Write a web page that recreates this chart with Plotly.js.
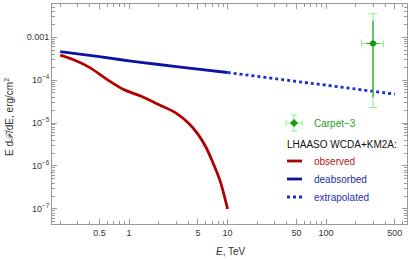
<!DOCTYPE html>
<html><head><meta charset="utf-8">
<script src="https://cdn.plot.ly/plotly-3.0.1.min.js"></script>
<style>html,body{margin:0;padding:0;background:#fff}#plot{width:415px;height:260px}</style>
</head><body><div id="plot"></div>
<script>
// Observed LHAASO spectrum (TeV, erg/cm^2)
const E_obs = [0.2, 0.27, 0.4, 0.59, 0.88, 1.29, 2.06, 3.0, 4.0, 5.0, 6.0, 7.0, 8.4, 10];
const F_obs = [3.8e-4, 3.0e-4, 1.95e-4, 1.05e-4, 6.0e-5, 4.3e-5, 2.6e-5, 1.7e-5, 1.0e-5, 5.5e-6, 2.8e-6, 1.3e-6, 4.5e-7, 1.0e-7];
// Deabsorbed
const E_deabs = [0.2, 0.5, 1, 2, 5, 10];
const F_deabs = [4.6e-4, 3.5e-4, 2.8e-4, 2.3e-4, 1.8e-4, 1.5e-4];
// Extrapolated
const E_extr = [10, 50, 100, 500];
const F_extr = [1.5e-4, 9.3e-5, 7.6e-5, 4.7e-5];
// Carpet-3 point
const E_carpet = [300];
const F_carpet = [7.1e-4];
const E_err_plus = [82], E_err_minus = [70];
const F_err_plus = [2.79e-3], F_err_minus = [6.87e-4];
const E_stat_plus = [40], E_stat_minus = [41];
const F_stat_plus = [1.7e-3], F_stat_minus = [6.7e-4];
// Ticks
const xTickVals = [0.5, 1, 5, 10, 50, 100, 500];
const xTickText = ['0.5', '1', '5', '10', '50', '100', '500'];
const xMinor = [0.2,0.3,0.4,0.6,0.7,0.8,0.9,2,3,4,6,7,8,9,20,30,40,60,70,80,90,200,300,400,600];
const yTickVals = [1e-7, 1e-6, 1e-5, 1e-4, 1e-3];
const yTickText = ['10<sup>−7</sup>', '10<sup>−6</sup>', '10<sup>−5</sup>', '10<sup>−4</sup>', '0.001'];
const yMinor = [];
[-8,-7,-6,-5,-4,-3].forEach(d => { for (let k = 2; k <= 9; k++) yMinor.push(k * Math.pow(10, d)); });

const W = 415, H = 260, L = 52, R = 8, T = 4, B = 36;
const pw = W - L - R, ph = H - T - B;
const px = x => (x - L) / pw, py = y => (H - B - y) / ph;

const cRed = '#b00000', cBlue = '#0a14a0', cDot = '#1a30d0';
const cLight = '#90ee90', cDark = '#22a022', cMark = '#119911';

const traces = [
  {x: E_obs, y: F_obs, mode: 'lines', line: {color: cRed, width: 2.8, shape: 'spline'}, hoverinfo: 'skip'},
  {x: E_deabs, y: F_deabs, mode: 'lines', line: {color: cBlue, width: 2.8, shape: 'spline'}},
  {x: E_extr, y: F_extr, mode: 'lines', line: {color: cDot, width: 2.8, dash: 'dot', shape: 'spline'}},
  {x: E_carpet, y: F_carpet, mode: 'markers', marker: {color: cMark, size: 0.1, opacity: 0},
   error_x: {type: 'data', symmetric: false, array: E_err_plus, arrayminus: E_err_minus, color: cLight, thickness: 1, width: 4},
   error_y: {type: 'data', symmetric: false, array: F_err_plus, arrayminus: F_err_minus, color: cLight, thickness: 1, width: 4}},
  {x: E_carpet, y: F_carpet, mode: 'markers', marker: {color: cMark, size: 6, symbol: 'circle'},
   error_x: {type: 'data', symmetric: false, array: E_stat_plus, arrayminus: E_stat_minus, color: cDark, thickness: 1.2, width: 0},
   error_y: {type: 'data', symmetric: false, array: F_stat_plus, arrayminus: F_stat_minus, color: cDark, thickness: 1.2, width: 0}}
];

const font = 'Liberation Sans, Arial, sans-serif';
const axisCommon = {
  type: 'log', showgrid: false, zeroline: false, showline: true, linecolor: '#9a9a9a', linewidth: 1,
  mirror: 'ticks', ticks: 'inside', ticklen: 5, tickcolor: '#9a9a9a', tickwidth: 1,
  tickfont: {family: font, size: 9, color: '#333'},
  minor: {ticks: 'inside', ticklen: 3, tickcolor: '#9a9a9a', tickwidth: 1, tickmode: 'array'}
};

const shapes = [];
const annotations = [];
function line(x0, y0, x1, y1, color, width, dash) {
  shapes.push({type: 'line', xref: 'paper', yref: 'paper', x0: px(x0), y0: py(y0), x1: px(x1), y1: py(y1),
    line: {color: color, width: width, dash: dash || 'solid'}});
}
function text(x, y, s, color, size) {
  annotations.push({xref: 'paper', yref: 'paper', x: px(x), y: py(y), xanchor: 'left', yanchor: 'middle',
    text: s, showarrow: false, font: {family: font, size: size || 10, color: color}});
}
// Carpet-3 legend symbol
line(286, 123, 302, 123, cLight, 1);
line(286, 120, 286, 126, cLight, 1);
line(302, 120, 302, 126, cLight, 1);
line(294, 115, 294, 131, cLight, 1);
line(291, 115, 297, 115, cLight, 1);
line(291, 131, 297, 131, cLight, 1);
line(290, 123, 298, 123, cDark, 1.2);
line(294, 119, 294, 127, cDark, 1.2);
shapes.push({type: 'circle', xref: 'paper', yref: 'paper', x0: px(291.5), x1: px(296.5), y0: py(125.5), y1: py(120.5),
  fillcolor: cMark, line: {color: cMark, width: 1}});
text(312, 123, 'Carpet−3', '#22a022');
text(285, 144, 'LHAASO WCDA+KM2A:', '#111');
line(287, 161, 302, 161, cRed, 2.8);
text(312, 161, 'observed', '#b02020');
line(287, 179, 302, 179, cBlue, 2.8);
text(312, 179, 'deabsorbed', '#2030a0');
line(287, 197, 302, 197, cDot, 2.8, 'dot');
text(312, 197, 'extrapolated', '#2030b0');
// axis titles
annotations.push({xref: 'paper', yref: 'paper', x: px(231), y: py(252), xanchor: 'center', yanchor: 'middle',
  text: '<i>E</i>, TeV', showarrow: false, font: {family: font, size: 10, color: '#333'}});
annotations.push({xref: 'paper', yref: 'paper', x: px(9), y: py(117), xanchor: 'center', yanchor: 'middle', textangle: -90,
  text: 'E d<i>ℱ</i>/dE, erg/cm<sup>2</sup>', showarrow: false, font: {family: font, size: 10, color: '#333'}});

const layout = {
  width: W, height: H, margin: {l: L, r: R, t: T, b: B}, showlegend: false,
  paper_bgcolor: '#fff', plot_bgcolor: '#fff',
  xaxis: Object.assign({}, axisCommon, {range: [Math.log10(0.165), Math.log10(664)], tickmode: 'array',
    tickvals: xTickVals, ticktext: xTickText, minor: Object.assign({}, axisCommon.minor, {tickvals: xMinor})}),
  yaxis: Object.assign({}, axisCommon, {range: [-7.35, -2.23], tickmode: 'array',
    tickvals: yTickVals, ticktext: yTickText, minor: Object.assign({}, axisCommon.minor, {tickvals: yMinor})}),
  shapes: shapes, annotations: annotations
};
Plotly.newPlot('plot', traces, layout, {staticPlot: true, displayModeBar: false});
</script></body></html>
